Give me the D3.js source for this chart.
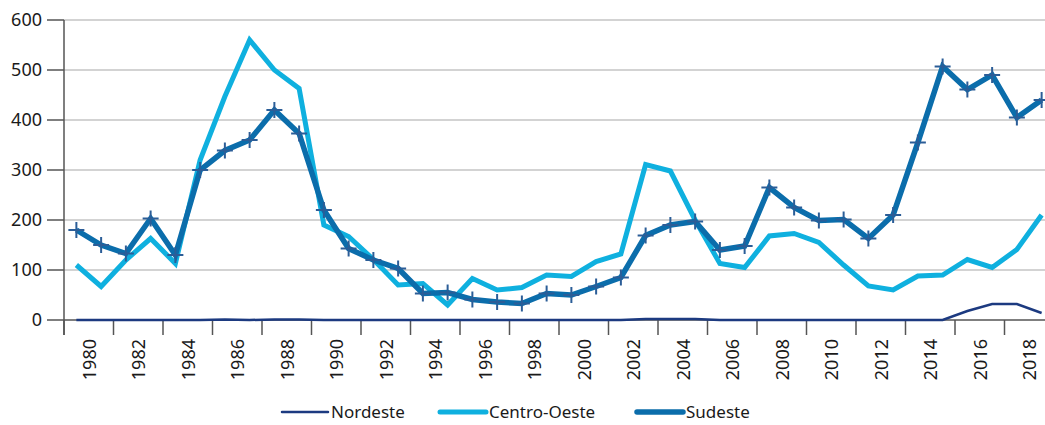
<!DOCTYPE html>
<html>
<head>
    <meta charset="UTF-8">
    <title>Nordeste / Centro-Oeste / Sudeste</title>
    <style>
        body { margin: 0; background: #fff; }
        text { font-family: "Noto Sans", "Open Sans", sans-serif; fill: #1a1a1a; }
    </style>
</head>
<body>
    <div id="app"></div>

    <script src="https://d3js.org/d3.v7.min.js"></script>
    <script>
        let years = d3.range(1980, 2020)
        let nordeste = [0, 0, 0, 0, 0, 0, 1, 0, 1, 1,
            0, 0, 0, 0, 0, 0, 0, 0, 0, 0,
            0, 0, 0, 2, 2, 2, 0, 0, 0, 0,
            0, 0, 0, 0, 0, 0, 18, 32, 32, 14]
        let centroOeste = [110, 67, 120, 163, 113, 320, 447, 560, 500, 463,
            190, 167, 121, 70, 73, 30, 83, 60, 65, 90,
            87, 117, 132, 311, 298, 200, 113, 105, 168, 173,
            155, 110, 68, 60, 88, 90, 121, 105, 141, 210]
        let sudeste = [180, 150, 133, 203, 130, 300, 339, 360, 420, 373,
            220, 143, 120, 103, 53, 55, 41, 36, 33, 53,
            50, 67, 85, 169, 190, 197, 140, 148, 265, 225,
            199, 201, 163, 210, 355, 507, 461, 490, 405, 440]
        let yTicks = [0, 100, 200, 300, 400, 500, 600]
        let xLabels = d3.range(1980, 2020, 2)

        let W = 1045
        let H = 425
        let left = 64
        let yearW = 24.75

        let svg = d3.select('#app').append('svg')
        .attr('width', W)
        .attr('height', H)

        let x = d3.scaleLinear()
        .domain([1979.5, 2019.5])
        .range([left, left + 40 * yearW])

        let y = d3.scaleLinear()
        .domain([0, 600])
        .range([320, 20])

        // gridlines
        svg.append('g').selectAll('line')
        .data(yTicks.filter(d => d > 0)).enter()
        .append('line')
        .attr('x1', left).attr('x2', W)
        .attr('y1', d => y(d)).attr('y2', d => y(d))
        .attr('stroke', '#c4c4c4')
        .attr('stroke-width', 1.5)

        // y axis
        let yAxis = svg.append('g')
        yAxis.append('line')
        .attr('x1', left).attr('x2', left)
        .attr('y1', y(600)).attr('y2', 335)
        .attr('stroke', '#555').attr('stroke-width', 1.5)
        yAxis.selectAll('.tk')
        .data(yTicks).enter()
        .append('line')
        .attr('x1', 47).attr('x2', left)
        .attr('y1', d => y(d)).attr('y2', d => y(d))
        .attr('stroke', '#555').attr('stroke-width', 1.5)
        yAxis.selectAll('text')
        .data(yTicks).enter()
        .append('text')
        .attr('x', 42)
        .attr('y', d => y(d))
        .attr('dy', '0.35em')
        .attr('text-anchor', 'end')
        .attr('font-size', 18)
        .text(d => d)

        // x axis
        let xAxis = svg.append('g')
        xAxis.append('line')
        .attr('x1', left).attr('x2', W)
        .attr('y1', y(0)).attr('y2', y(0))
        .attr('stroke', '#555').attr('stroke-width', 1.5)
        xAxis.selectAll('.tk')
        .data(xLabels).enter()
        .append('line')
        .attr('x1', d => x(d - 0.5)).attr('x2', d => x(d - 0.5))
        .attr('y1', y(0)).attr('y2', 335)
        .attr('stroke', '#555').attr('stroke-width', 1.5)
        xAxis.selectAll('text')
        .data(xLabels).enter()
        .append('text')
        .attr('transform', d => 'translate(' + (x(d) + 13) + ',339) rotate(-90)')
        .attr('dy', '0.35em')
        .attr('text-anchor', 'end')
        .attr('font-size', 18)
        .text(d => d)

        let line = d3.line()
        .x((d, i) => x(years[i]))
        .y(d => y(d))

        let series = [
            { name: 'Nordeste', values: nordeste, color: '#1c3a80', width: 2.5 },
            { name: 'Centro-Oeste', values: centroOeste, color: '#0fb0df', width: 5 },
            { name: 'Sudeste', values: sudeste, color: '#0b6dab', width: 5.5 }
        ]

        let plot = svg.append('g')
        plot.selectAll('path')
        .data(series.slice().reverse().filter(s => s.name !== 'Sudeste').concat([series[2]])).enter()
        .append('path')
        .attr('d', d => line(d.values))
        .attr('fill', 'none')
        .attr('stroke', d => d.color)
        .attr('stroke-width', d => d.width)
        .attr('stroke-linejoin', 'miter')

        // plus markers on Sudeste
        let mk = plot.append('g').selectAll('g')
        .data(sudeste).enter()
        .append('g')
        .attr('transform', (d, i) => 'translate(' + x(years[i]) + ',' + y(d) + ')')
        mk.append('line').attr('x1', -8).attr('x2', 8).attr('y1', 0).attr('y2', 0)
        .attr('stroke', '#2b5d97').attr('stroke-width', 2)
        mk.append('line').attr('x1', 0).attr('x2', 0).attr('y1', -8).attr('y2', 8)
        .attr('stroke', '#2b5d97').attr('stroke-width', 2)

        // legend
        let legendX = [282, 440, 637]
        let lg = svg.append('g').selectAll('g')
        .data(series).enter()
        .append('g')
        .attr('transform', (d, i) => 'translate(' + legendX[i] + ',412)')
        lg.append('line')
        .attr('x1', 0).attr('x2', 46)
        .attr('stroke', d => d.color)
        .attr('stroke-width', d => d.width)
        .attr('stroke-linecap', 'round')
        lg.append('text')
        .attr('x', 49)
        .attr('dy', '0.35em')
        .attr('font-size', 17)
        .text(d => d.name)
    </script>
</body>
</html>
